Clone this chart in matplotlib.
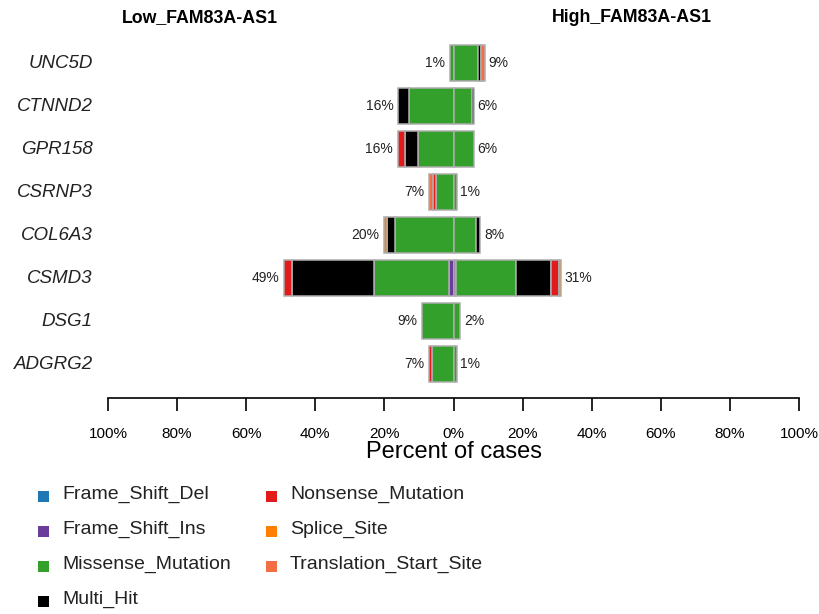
import matplotlib
matplotlib.use("Agg")
import matplotlib.pyplot as plt
from matplotlib.patches import Rectangle
import numpy as np

plt.rcParams['font.family'] = ['Liberation Sans', 'DejaVu Sans']

genes = ['UNC5D', 'CTNND2', 'GPR158', 'CSRNP3', 'COL6A3', 'CSMD3', 'DSG1', 'ADGRG2']
low_pct = [1, 16, 16, 7, 20, 49, 9, 7]
high_pct = [9, 6, 6, 1, 8, 31, 2, 1]

mut_types = ['Frame_Shift_Del', 'Frame_Shift_Ins', 'Missense_Mutation', 'Multi_Hit',
             'Nonsense_Mutation', 'Splice_Site', 'Translation_Start_Site']
mut_colors = ['#1F78B4', '#6A3D9A', '#33A02C', '#000000', '#E31A1C', '#FF7F00', '#F46D43']

# percent of cases per mutation type, in the order of mut_types
low_vals = [
    [0, 0, 1.0, 0, 0, 0, 0],
    [0, 0, 13.0, 3.0, 0, 0, 0],
    [0, 0, 10.2, 3.8, 2.2, 0, 0],
    [0, 0, 5.0, 0, 1.0, 0, 1.0],
    [0, 0, 16.8, 2.4, 0, 0.8, 0],
    [0, 1.2, 21.7, 23.8, 2.4, 0, 0],
    [0, 0, 9.0, 0, 0, 0, 0],
    [0, 0, 6.3, 0, 0.7, 0, 0],
]
high_vals = [
    [0, 0, 7.2, 0.9, 0, 0, 0.9],
    [0, 0, 5.4, 0.6, 0, 0, 0],
    [0, 0, 6.0, 0, 0, 0, 0],
    [0, 0, 1.0, 0, 0, 0, 0],
    [0, 0, 6.6, 1.2, 0, 0, 0],
    [0, 0.8, 17.2, 10.3, 2.2, 0.7, 0],
    [0, 0, 2.0, 0, 0, 0, 0],
    [0, 0, 1.0, 0, 0, 0, 0],
]

W, H = 819, 614
fig = plt.figure(figsize=(W / 100, H / 100), dpi=100)
ax = fig.add_axes([108 / W, (H - 398) / H, 691 / W, 358 / H])

bar_h = 0.82
for i, g in enumerate(genes):
    # low side goes to the left (negative), high to the right
    for vals, sign in ((low_vals[i], -1), (high_vals[i], 1)):
        start = 0.0
        for v, c in zip(vals, mut_colors):
            if v <= 0:
                continue
            ax.barh(i, sign * v, left=sign * start, height=bar_h, color=c,
                    edgecolor='#AEAEAE', linewidth=1.1)
            start += v
    ax.text(-sum(low_vals[i]) - 1.4, i, f"{low_pct[i]}%", ha='right', va='center',
            fontsize=10, color='#222222')
    ax.text(sum(high_vals[i]) + 1.0, i, f"{high_pct[i]}%", ha='left', va='center',
            fontsize=10, color='#222222')
    ax.text(-104.4, i, g, ha='right', va='center', fontsize=13.5, style='italic',
            color='#222222')

ax.set_xlim(-100, 100)
ax.set_ylim(7.79, -0.535)
ticks = np.arange(-100, 101, 20)
ax.set_xticks(ticks)
ax.set_xticklabels([f"{abs(t)}%" for t in ticks], fontsize=11)
ax.tick_params(axis='x', length=9, width=1.2, pad=12)
ax.set_yticks([])
for s in ['top', 'left', 'right']:
    ax.spines[s].set_visible(False)
ax.spines['bottom'].set_linewidth(1.2)
ax.set_xlabel('Percent of cases', fontsize=17, labelpad=0)

fig.text(200 / W, 1 - 18 / H, 'Low_FAM83A-AS1', ha='center', va='center',
         fontsize=12.8, fontweight='bold')
fig.text(632 / W, 1 - 18 / H, 'High_FAM83A-AS1', ha='center', va='center',
         fontsize=12.8, fontweight='bold')

# legend: two columns, filled column-wise
sq = 11
for k, (name, c) in enumerate(zip(mut_types, mut_colors)):
    col, row = divmod(k, 4)
    cx = 43 + 228 * col
    cy = 496 + 35 * row
    fig.add_artist(Rectangle(((cx - sq / 2) / W, 1 - (cy + sq / 2) / H), sq / W, sq / H,
                             transform=fig.transFigure, color=c, linewidth=0))
    fig.text((cx + 19) / W, 1 - (cy - 2) / H, name, ha='left', va='center', fontsize=14,
             color='#222222')

fig.savefig('out.png', dpi=100)
